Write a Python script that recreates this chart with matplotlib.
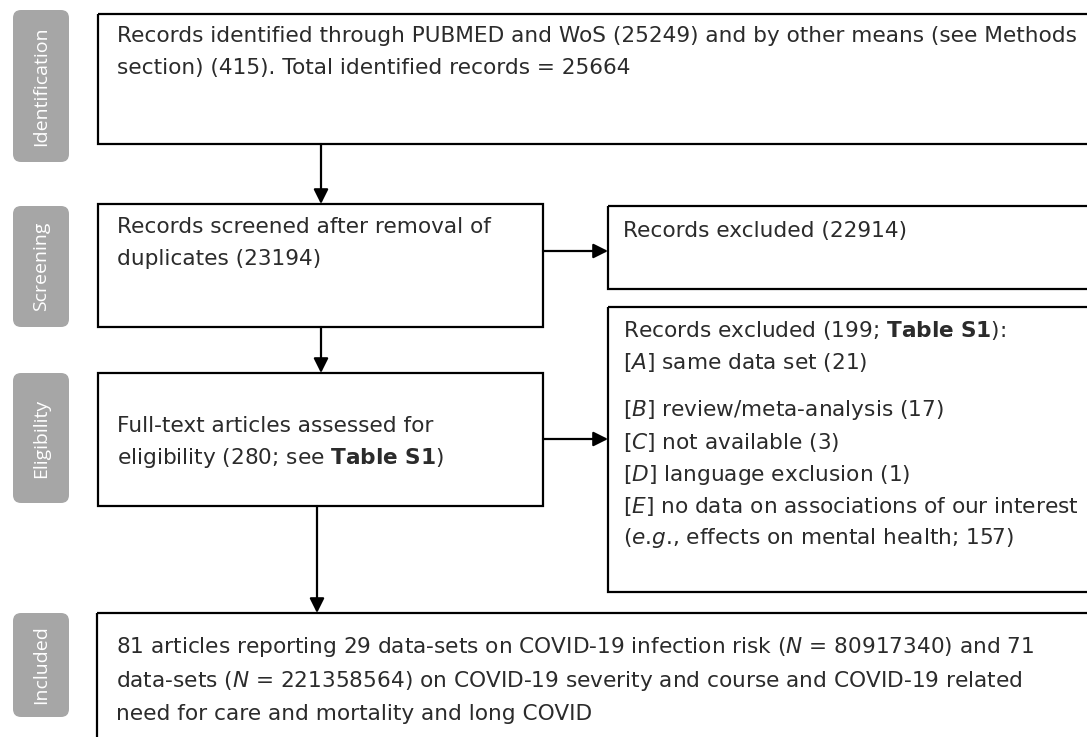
import matplotlib
matplotlib.use("Agg")
import matplotlib.pyplot as plt
from matplotlib.patches import FancyBboxPatch, Rectangle

plt.rcParams['font.family'] = ['DejaVu Sans']
plt.rcParams['mathtext.fontset'] = 'dejavusans'

W, H = 1087, 737

# ---- content ----
stage_labels = ["Identification", "Screening", "Eligibility", "Included"]

identification_lines = [
    "Records identified through PUBMED and WoS (25249) and by other means (see Methods",
    "section) (415). Total identified records = 25664",
]
screening_lines = [
    "Records screened after removal of",
    "duplicates (23194)",
]
excluded1_lines = [
    "Records excluded (22914)",
]
eligibility_lines = [
    "Full-text articles assessed for",
    r"eligibility (280; see $\mathbf{Table\ S1}$)",
]
excluded2_lines = [
    r"Records excluded (199; $\mathbf{Table\ S1}$):",
    r"[$\mathit{A}$] same data set (21)",
    r"[$\mathit{B}$] review/meta-analysis (17)",
    r"[$\mathit{C}$] not available (3)",
    r"[$\mathit{D}$] language exclusion (1)",
    r"[$\mathit{E}$] no data on associations of our interest",
    r"($\mathit{e}$.$\mathit{g}$., effects on mental health; 157)",
]
included_lines = [
    r"81 articles reporting 29 data-sets on COVID-19 infection risk ($\mathit{N}$ = 80917340) and 71",
    r"data-sets ($\mathit{N}$ = 221358564) on COVID-19 severity and course and COVID-19 related",
    "need for care and mortality and long COVID",
]

# ---- figure ----
fig = plt.figure(figsize=(W / 100, H / 100), dpi=100)
ax = fig.add_axes([0, 0, 1, 1])
ax.set_xlim(0, W)
ax.set_ylim(H, 0)
ax.axis("off")

TXT = "#2b2b2b"
FS = 15.6
LW = 1.6

def box(x0, y0, x1, y1, lines, baselines, pad_x=19):
    ax.add_patch(Rectangle((x0, y0), x1 - x0, y1 - y0, fill=False,
                           edgecolor="black", linewidth=LW, clip_on=True))
    for s, yb in zip(lines, baselines):
        ax.text(x0 + pad_x, yb, s, fontsize=FS, color=TXT,
                ha="left", va="baseline")

def label(x0, y0, x1, y1, s):
    ax.add_patch(FancyBboxPatch((x0, y0), x1 - x0, y1 - y0,
                                boxstyle="round,pad=0,rounding_size=8",
                                facecolor="#a6a6a6", edgecolor="none"))
    ax.text((x0 + x1) / 2, (y0 + y1) / 2, s, rotation=90, color="white",
            fontsize=14, family="Open Sans", ha="center", va="center")

def arrow(x0, y0, x1, y1):
    ax.annotate("", xy=(x1, y1), xytext=(x0, y0),
                arrowprops=dict(arrowstyle="-|>", color="black", lw=LW,
                                mutation_scale=22, shrinkA=0, shrinkB=0))

label(13, 10, 69, 162, stage_labels[0])
label(13, 206, 69, 327, stage_labels[1])
label(13, 373, 69, 503, stage_labels[2])
label(13, 613, 69, 717, stage_labels[3])

box(98, 14, 1100, 144, identification_lines, [42, 74])
box(98, 204, 543, 327, screening_lines, [233, 265])
box(608, 206, 1100, 289, excluded1_lines, [237], pad_x=15)
box(98, 373, 543, 506, eligibility_lines, [432, 464])
box(608, 307, 1100, 592, excluded2_lines,
    [337, 369, 416, 449, 481, 513, 544], pad_x=15)
box(97, 613, 1100, 760, included_lines, [653, 687, 720])

arrow(321, 144, 321, 204)
arrow(321, 327, 321, 373)
arrow(543, 251, 608, 251)
arrow(543, 439, 608, 439)
arrow(317, 506, 317, 613)

fig.savefig("out.png", dpi=100)
